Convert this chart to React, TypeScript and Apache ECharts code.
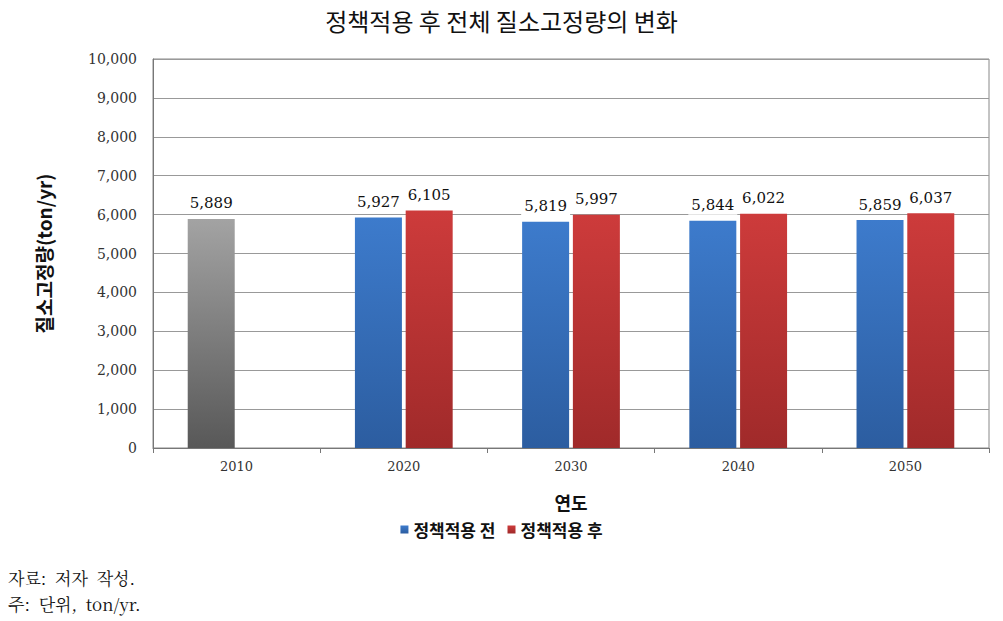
import React, { useEffect, useRef } from "react";
import * as echarts from "echarts";

const categories = ["2010", "2020", "2030", "2040", "2050"];
const beforeValues = [5889, 5927, 5819, 5844, 5859];
const afterValues: (number | null)[] = [null, 6105, 5997, 6022, 6037];
const seriesNames = ["정책적용 전", "정책적용 후"];
const yTicks = { min: 0, max: 10000, interval: 1000 };

const KR = '"Noto Sans CJK KR", sans-serif';
const SERIF = '"DejaVu Serif", "Liberation Serif", serif';

const grad = (top: string, bottom: string) =>
  new echarts.graphic.LinearGradient(0, 0, 0, 1, [
    { offset: 0, color: top },
    { offset: 1, color: bottom },
  ]);

export default function App() {
  const ref = useRef<HTMLDivElement>(null);
  useEffect(() => {
    if (!ref.current) return;
    const chart = echarts.init(ref.current, undefined, { renderer: "svg" });
    const label = {
      show: true,
      position: "top" as const,
      distance: 6,
      formatter: (p: any) => p.value.toLocaleString("en-US"),
      fontFamily: SERIF,
      fontSize: 15,
      color: "#111",
      backgroundColor: "#fff",
      padding: [2, 3, 2, 3],
    };
    chart.setOption({
      animation: false,
      title: {
        text: "정책적용 후 전체 질소고정량의 변화",
        left: "center",
        top: 3,
        textStyle: { fontFamily: KR, fontSize: 24, fontWeight: "normal", color: "#111" },
      },
      grid: { left: 153, right: 14, top: 59, bottom: 173, show: true, borderColor: "#888", borderWidth: 1 },
      legend: {
        data: seriesNames,
        bottom: 78,
        left: "center",
        itemWidth: 8,
        itemHeight: 8,
        itemGap: 12,
        icon: "rect",
        textStyle: { fontFamily: KR, fontSize: 17, fontWeight: "bold", color: "#111" },
      },
      xAxis: {
        type: "category",
        data: categories,
        name: "연도",
        nameLocation: "middle",
        nameGap: 45,
        nameTextStyle: { fontFamily: KR, fontSize: 18, fontWeight: "bold", color: "#111" },
        axisLine: { lineStyle: { color: "#777" } },
        axisTick: { show: true, length: 5, lineStyle: { color: "#777" } },
        axisLabel: { fontFamily: SERIF, fontSize: 13, color: "#333", margin: 12 },
      },
      yAxis: {
        type: "value",
        min: yTicks.min,
        max: yTicks.max,
        interval: yTicks.interval,
        name: "질소고정량(ton/yr)",
        nameLocation: "middle",
        nameGap: 100,
        nameRotate: 90,
        nameTextStyle: { fontFamily: KR, fontSize: 19, fontWeight: "bold", color: "#111" },
        axisLine: { show: true, lineStyle: { color: "#777" } },
        axisTick: { show: false },
        axisLabel: {
          fontFamily: SERIF,
          fontSize: 14,
          color: "#333",
          margin: 16,
          formatter: (v: number) => v.toLocaleString("en-US"),
        },
        splitLine: { lineStyle: { color: "#999", width: 1 } },
      },
      series: [
        {
          name: seriesNames[0],
          type: "bar",
          barWidth: 47,
          barGap: "8%",
          color: "#3a78c8",
          itemStyle: { color: grad("#3d7bcc", "#2c5da0") },
          label,
          data: beforeValues.map((v, i) =>
            i === 0 ? { value: v, itemStyle: { color: grad("#a3a3a3", "#585858") } } : v
          ),
        },
        {
          name: seriesNames[1],
          type: "bar",
          barWidth: 47,
          barGap: "8%",
          color: "#c83838",
          itemStyle: { color: grad("#cd3b3b", "#a02a2a") },
          label,
          data: afterValues,
        },
      ],
      graphic: [
        {
          type: "text",
          left: 8,
          top: 569,
          style: { text: "자료:  저자  작성.", font: `17px "Noto Serif CJK KR", "Noto Sans CJK KR", serif`, fill: "#111" },
        },
        {
          type: "text",
          left: 8,
          top: 595,
          style: { text: "주:  단위,  ton/yr.", font: `17px "Noto Serif CJK KR", "Noto Sans CJK KR", serif`, fill: "#111" },
        },
      ],
    });
    return () => chart.dispose();
  }, []);
  return <div ref={ref} style={{ width: 1003, height: 621, position: "absolute", left: 0, top: 0 }} />;
}
